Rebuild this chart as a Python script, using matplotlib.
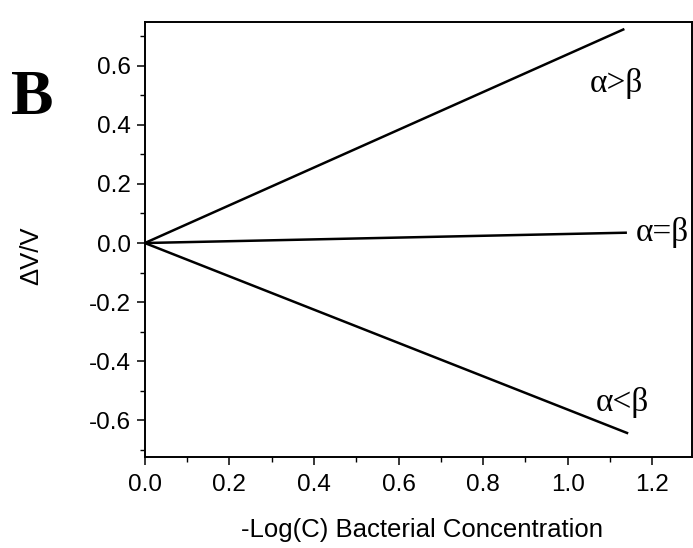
import matplotlib
matplotlib.use("Agg")
import matplotlib.pyplot as plt
import numpy as np

# Data
x_start = [0.0, 0.0, 0.0]
x_end = [1.134, 1.14, 1.143]
y_start = [0.0, 0.0, 0.0]
y_end = [0.725, 0.035, -0.645]
series_labels = ["α>β", "α=β", "α<β"]
label_x = [1.115, 1.224, 1.129]
label_y = [0.542, 0.034, -0.539]

xticks = [0.0, 0.2, 0.4, 0.6, 0.8, 1.0, 1.2]
yticks = [-0.6, -0.4, -0.2, 0.0, 0.2, 0.4, 0.6]

plt.rcParams['font.family'] = ['Liberation Sans', 'DejaVu Sans']

fig = plt.figure(figsize=(6.93, 5.48), dpi=100)
ax = fig.add_axes([0.209, 0.166, 0.789, 0.794])

for xs, xe, ys, ye in zip(x_start, x_end, y_start, y_end):
    ax.plot([xs, xe], [ys, ye], color='black', lw=1.8, solid_capstyle='butt')

for t, lx, ly in zip(series_labels, label_x, label_y):
    ax.text(lx, ly, t, ha='center', va='center', fontsize=24,
            family=['Liberation Serif', 'DejaVu Serif'], clip_on=False)

ax.set_xlim(0.0, 1.293)
ax.set_ylim(-0.725, 0.749)
ax.set_xticks(xticks)
ax.set_xticklabels([f"{v:.1f}" for v in xticks])
ax.set_yticks(yticks)
ax.set_yticklabels([f"{v:.1f}" for v in yticks])
ax.set_xticks(np.arange(0.1, 1.3, 0.2), minor=True)
ax.set_yticks(np.arange(-0.7, 0.75, 0.2), minor=True)

ax.tick_params(axis='both', which='major', direction='out', length=6, width=1.1,
               labelsize=17.5, pad=4)
ax.tick_params(axis='both', which='minor', direction='out', length=3.5, width=1.0)
ax.tick_params(axis='x', which='major', pad=6)
for s in ax.spines.values():
    s.set_linewidth(1.4)

fig.text(422 / 693, 1 - 537 / 548, "-Log(C) Bacterial Concentration",
         ha='center', va='baseline', fontsize=18.5)
fig.text(31 / 693, 1 - 256 / 548, "ΔV/V", rotation=90,
         ha='center', va='center', fontsize=18.5)
fig.text(32 / 693, 1 - 99 / 548, "B", ha='center', va='center', fontsize=46,
         fontweight='bold', family=['Liberation Serif', 'DejaVu Serif'])

fig.savefig("out.png", dpi=100)
